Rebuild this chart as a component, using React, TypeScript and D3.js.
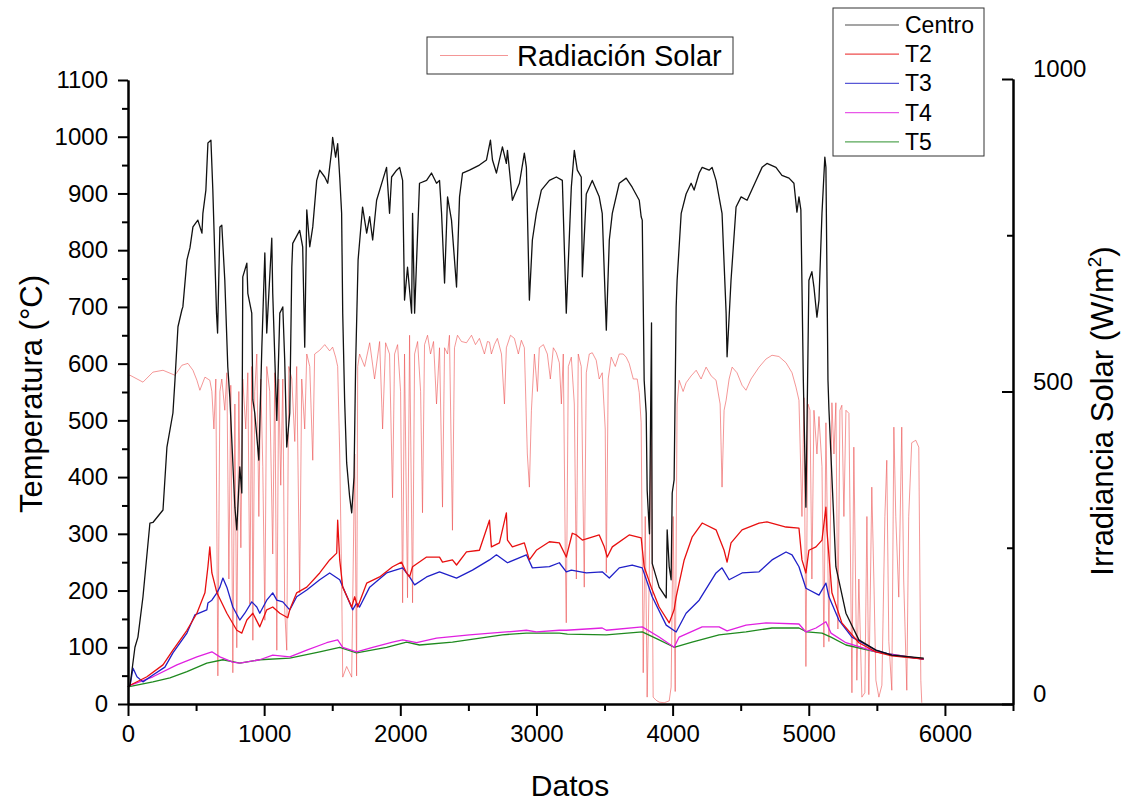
import React, { useEffect, useRef } from 'react';
import * as d3 from 'd3';

type Pt = [number, number];

// Datos (x) vs temperatura (°C)
const centro: Pt[] = [
  [0, 30], [15, 33], [51, 100], [73, 118], [110, 189], [161, 319], [183, 320], [257, 342], [286, 453], [330, 513],
  [345, 571], [367, 665], [396, 695], [403, 700], [433, 783], [455, 804], [477, 841], [513, 853], [543, 830], [550, 865],
  [572, 906], [587, 989], [609, 994], [623, 906], [650, 689], [658, 654], [675, 841], [689, 844], [711, 747], [733, 594],
  [748, 540], [785, 347], [799, 307], [821, 418], [836, 372], [843, 753], [873, 777], [880, 724], [909, 689], [917, 536],
  [931, 513], [961, 430], [983, 629], [1005, 795], [1019, 654], [1056, 821], [1063, 724], [1093, 500], [1115, 689], [1137, 700],
  [1151, 606], [1166, 453], [1188, 513], [1203, 770], [1210, 812], [1261, 835], [1283, 806], [1298, 629], [1313, 871], [1335, 806],
  [1357, 841], [1386, 923], [1408, 941], [1445, 929], [1467, 918], [1496, 976], [1503, 999], [1525, 964], [1540, 988], [1555, 929],
  [1569, 865], [1577, 689], [1591, 536], [1606, 425], [1628, 365], [1643, 337], [1660, 400], [1672, 600], [1690, 783], [1723, 876],
  [1753, 830], [1775, 859], [1797, 818], [1826, 888], [1870, 923], [1899, 946], [1921, 865], [1936, 929], [1973, 941], [1995, 946],
  [2017, 923], [2031, 712], [2053, 770], [2083, 689], [2090, 865], [2105, 689], [2141, 918], [2193, 923], [2229, 936], [2266, 918],
  [2288, 923], [2303, 865], [2325, 742], [2347, 894], [2376, 853], [2413, 735], [2435, 894], [2457, 936], [2508, 941], [2581, 950],
  [2633, 959], [2662, 994], [2677, 959], [2706, 936], [2750, 982], [2779, 953], [2787, 976], [2816, 906], [2823, 888], [2875, 918],
  [2911, 971], [2926, 946], [2948, 712], [2970, 818], [2999, 865], [3036, 906], [3095, 923], [3146, 929], [3190, 923], [3219, 689],
  [3256, 911], [3278, 976], [3300, 941], [3329, 929], [3337, 753], [3366, 899], [3410, 923], [3461, 894], [3483, 865], [3513, 659],
  [3535, 818], [3557, 865], [3608, 918], [3659, 927], [3703, 911], [3755, 888], [3769, 859], [3777, 853], [3791, 571], [3806, 513],
  [3813, 377], [3830, 300], [3845, 672], [3850, 248], [3901, 206], [3953, 187], [3960, 307], [3975, 242], [3989, 219], [3997, 372],
  [4011, 395], [4026, 700], [4033, 747], [4063, 865], [4099, 899], [4136, 918], [4158, 906], [4195, 936], [4217, 946], [4268, 941],
  [4290, 946], [4319, 923], [4363, 865], [4393, 689], [4400, 612], [4429, 747], [4466, 876], [4503, 894], [4547, 888], [4613, 923],
  [4657, 946], [4693, 953], [4759, 946], [4803, 932], [4855, 927], [4891, 918], [4913, 867], [4928, 894], [4942, 871], [4960, 571],
  [4979, 347], [5001, 747], [5023, 762], [5038, 735], [5060, 682], [5075, 712], [5097, 865], [5118, 964], [5126, 946], [5141, 571],
  [5148, 520], [5199, 242], [5273, 160], [5368, 113], [5493, 95], [5610, 86], [5844, 81],
];

const t2: Pt[] = [
  [0, 30], [15, 33], [139, 48], [257, 69], [330, 95], [433, 130], [506, 160], [565, 196], [587, 242], [601, 277],
  [616, 231], [653, 196], [726, 160], [799, 130], [836, 125], [873, 148], [917, 160], [968, 136], [1019, 166], [1063, 171],
  [1115, 160], [1173, 152], [1188, 166], [1239, 196], [1313, 206], [1408, 231], [1481, 254], [1533, 266], [1540, 324], [1555, 254],
  [1577, 206], [1643, 171], [1665, 189], [1687, 171], [1753, 213], [1848, 224], [1943, 242], [2009, 250], [2046, 231], [2068, 224],
  [2090, 242], [2193, 259], [2288, 259], [2310, 250], [2383, 254], [2413, 245], [2486, 268], [2581, 271], [2655, 324], [2669, 277],
  [2728, 284], [2779, 337], [2787, 289], [2823, 277], [2911, 284], [2948, 254], [2999, 271], [3095, 286], [3168, 284], [3219, 259],
  [3263, 301], [3293, 298], [3337, 289], [3461, 298], [3498, 277], [3520, 259], [3557, 277], [3681, 298], [3769, 293], [3791, 242],
  [3843, 206], [3901, 171], [3975, 143], [4011, 166], [4026, 189], [4085, 254], [4143, 294], [4217, 319], [4319, 307], [4378, 271],
  [4400, 250], [4429, 284], [4510, 307], [4635, 319], [4693, 321], [4833, 312], [4928, 310], [4950, 254], [4979, 231], [5001, 271],
  [5053, 277], [5097, 289], [5126, 347], [5133, 307], [5170, 196], [5243, 143], [5368, 108], [5493, 92], [5610, 85], [5844, 79],
];

const t3: Pt[] = [
  [0, 30], [15, 33], [37, 63], [66, 48], [110, 39], [183, 51], [271, 65], [330, 90], [433, 125], [491, 157],
  [579, 166], [587, 178], [616, 183], [653, 196], [675, 206], [697, 222], [726, 206], [770, 171], [821, 148], [858, 160],
  [909, 180], [946, 171], [968, 160], [1019, 183], [1063, 196], [1093, 183], [1137, 180], [1188, 166], [1239, 189], [1313, 201],
  [1408, 219], [1481, 231], [1555, 219], [1650, 166], [1679, 178], [1701, 171], [1775, 206], [1899, 231], [2017, 240], [2068, 224],
  [2105, 210], [2193, 224], [2288, 233], [2413, 222], [2530, 236], [2655, 254], [2706, 263], [2787, 249], [2926, 263], [2970, 240],
  [3095, 242], [3168, 249], [3219, 233], [3256, 236], [3366, 231], [3483, 233], [3535, 222], [3608, 240], [3703, 245], [3777, 240],
  [3850, 189], [3953, 139], [4026, 127], [4099, 160], [4195, 183], [4319, 231], [4363, 240], [4415, 219], [4510, 231], [4635, 233],
  [4730, 254], [4833, 268], [4877, 263], [4928, 242], [4979, 204], [5075, 192], [5126, 213], [5148, 189], [5221, 148], [5317, 118],
  [5493, 95], [5610, 86], [5844, 79],
];

const t4: Pt[] = [
  [0, 30], [15, 33], [183, 48], [359, 69], [506, 83], [616, 92], [675, 83], [770, 74], [821, 72], [968, 78],
  [1063, 86], [1188, 83], [1313, 95], [1459, 108], [1540, 113], [1577, 100], [1679, 92], [1797, 100], [1943, 109], [2017, 113],
  [2120, 108], [2266, 116], [2508, 122], [2779, 127], [2926, 130], [2999, 127], [3168, 130], [3219, 130], [3483, 134], [3513, 130],
  [3777, 136], [3901, 118], [4011, 100], [4048, 118], [4217, 136], [4341, 136], [4400, 129], [4539, 139], [4686, 143], [4928, 141],
  [4979, 127], [5053, 134], [5126, 145], [5163, 125], [5273, 108], [5493, 92], [5844, 79],
];

const t5: Pt[] = [
  [0, 30], [183, 39], [308, 46], [433, 57], [579, 72], [697, 78], [821, 72], [968, 78], [1188, 81], [1408, 92],
  [1555, 100], [1679, 90], [1899, 100], [2046, 109], [2141, 104], [2383, 109], [2750, 122], [2926, 125], [3168, 125], [3227, 123],
  [3513, 122], [3777, 127], [3901, 113], [4011, 100], [4143, 109], [4341, 122], [4539, 127], [4730, 134], [4928, 134], [4986, 127],
  [5097, 125], [5163, 118], [5273, 104], [5493, 92], [5844, 79],
];

// Datos vs irradiancia solar (W/m2), right axis
const radiacion: Pt[] = [
  [0, 526], [15, 526], [110, 515], [183, 531], [257, 534], [345, 526], [396, 542], [440, 545], [477, 534], [506, 518],
  [528, 502], [565, 523], [601, 518], [616, 500], [631, 440], [645, 520], [660, 45], [675, 500], [689, 520], [711, 470],
  [726, 530], [741, 200], [755, 510], [770, 50], [785, 480], [799, 90], [814, 500], [829, 250], [843, 520], [865, 440],
  [880, 530], [895, 160], [909, 540], [917, 102], [931, 500], [946, 560], [961, 300], [975, 520], [990, 380], [1005, 134],
  [1019, 540], [1041, 500], [1063, 240], [1078, 530], [1093, 86], [1107, 520], [1122, 350], [1137, 520], [1151, 150], [1166, 86],
  [1181, 540], [1203, 520], [1225, 420], [1239, 540], [1261, 178], [1276, 520], [1298, 440], [1313, 560], [1335, 540], [1357, 390],
  [1371, 560], [1408, 566], [1445, 575], [1481, 565], [1503, 571], [1525, 555], [1540, 540], [1555, 400], [1569, 200], [1577, 43],
  [1606, 60], [1643, 43], [1665, 400], [1679, 45], [1687, 540], [1701, 560], [1738, 540], [1775, 578], [1811, 520], [1848, 580],
  [1870, 440], [1892, 578], [1921, 560], [1943, 330], [1958, 560], [1980, 575], [2002, 500], [2017, 162], [2031, 560], [2053, 170],
  [2068, 590], [2090, 162], [2105, 560], [2127, 580], [2149, 500], [2163, 306], [2178, 575], [2200, 590], [2222, 560], [2244, 580],
  [2266, 480], [2288, 570], [2310, 315], [2325, 570], [2347, 560], [2361, 590], [2383, 278], [2398, 570], [2420, 590], [2449, 580],
  [2486, 578], [2523, 590], [2552, 575], [2581, 585], [2618, 560], [2640, 580], [2655, 579], [2669, 560], [2691, 575], [2713, 585],
  [2743, 560], [2765, 480], [2779, 570], [2809, 590], [2838, 585], [2867, 560], [2889, 582], [2911, 570], [2933, 400], [2948, 347],
  [2963, 470], [2985, 560], [3007, 500], [3021, 570], [3051, 575], [3080, 560], [3102, 520], [3124, 570], [3146, 562], [3168, 546],
  [3183, 480], [3197, 560], [3212, 235], [3219, 130], [3234, 540], [3256, 555], [3278, 480], [3293, 200], [3307, 560], [3329, 540],
  [3351, 187], [3366, 530], [3388, 560], [3410, 562], [3439, 550], [3461, 520], [3483, 530], [3505, 440], [3513, 210], [3527, 520],
  [3549, 555], [3579, 540], [3608, 560], [3637, 560], [3659, 555], [3681, 545], [3711, 520], [3740, 520], [3755, 498], [3769, 450],
  [3784, 50], [3799, 300], [3813, 11], [3828, 200], [3843, 460], [3857, 11], [3879, 6], [3901, 3], [3938, 2], [3975, 5],
  [3989, 27], [4004, 300], [4019, 20], [4033, 480], [4048, 518], [4077, 500], [4099, 514], [4136, 525], [4173, 534], [4209, 520],
  [4246, 539], [4283, 525], [4319, 518], [4349, 480], [4363, 347], [4378, 470], [4393, 486], [4415, 520], [4437, 539], [4473, 530],
  [4510, 510], [4539, 502], [4576, 520], [4635, 539], [4686, 552], [4730, 558], [4781, 556], [4833, 546], [4877, 530], [4906, 507],
  [4928, 486], [4950, 300], [4965, 490], [4979, 60], [4994, 480], [5009, 470], [5023, 200], [5038, 470], [5060, 400], [5075, 460],
  [5097, 380], [5111, 91], [5126, 450], [5148, 100], [5170, 482], [5185, 400], [5199, 482], [5214, 120], [5229, 470], [5243, 478],
  [5258, 300], [5273, 470], [5295, 465], [5317, 18], [5331, 411], [5353, 38], [5368, 200], [5390, 11], [5412, 18], [5427, 300],
  [5441, 15], [5463, 347], [5478, 200], [5493, 38], [5515, 11], [5537, 30], [5559, 300], [5573, 390], [5588, 100], [5610, 22],
  [5625, 443], [5639, 300], [5661, 171], [5683, 443], [5697, 200], [5720, 22], [5734, 300], [5756, 418], [5786, 422], [5808, 411],
  [5823, 38], [5830, 2],
];

const xTicks = [0, 1000, 2000, 3000, 4000, 5000, 6000];
const yTicks = d3.range(0, 1101, 100);
const rTicks = [0, 500, 1000];

const series = [
  { name: 'Centro', data: centro, color: '#111111' },
  { name: 'T2', data: t2, color: '#e81010' },
  { name: 'T3', data: t3, color: '#2020c8' },
  { name: 'T4', data: t4, color: '#e020e0' },
  { name: 'T5', data: t5, color: '#1f8a1f' },
];

const FONT = '"Liberation Sans", Arial, sans-serif';

const App = () => {
  const svgRef = useRef<SVGSVGElement>(null);

  useEffect(() => {
    const svg = d3.select(svgRef.current);
    svg.selectAll('*').remove();

    const x = d3.scaleLinear().domain([0, 6500]).range([128, 1013]);
    const yT = d3.scaleLinear().domain([0, 1100]).range([704, 80]);
    const yR = d3.scaleLinear().domain([0, 1000]).range([704, 79]);

    const line = (ys: d3.ScaleLinear<number, number>) =>
      d3.line<Pt>().x(d => x(d[0])).y(d => ys(d[1]));

    // radiation first, temperatures over it
    svg.append('path').datum(radiacion)
      .attr('d', line(yR)).attr('fill', 'none')
      .attr('stroke', '#ec5050').attr('stroke-opacity', 0.75).attr('stroke-width', 0.8);

    series.slice().reverse().forEach(s => {
      svg.append('path').datum(s.data)
        .attr('d', line(yT)).attr('fill', 'none')
        .attr('stroke', s.color).attr('stroke-width', 1.3).attr('stroke-linejoin', 'round');
    });

    const styleAxis = (g: d3.Selection<SVGGElement, unknown, null, undefined>) => {
      g.selectAll('path.domain').attr('stroke', '#000').attr('stroke-width', 2);
      g.selectAll('.tick line').attr('stroke', '#000').attr('stroke-width', 2);
      g.selectAll('text').attr('font-family', FONT).attr('font-size', 24).attr('fill', '#000');
    };

    // left axis
    svg.append('g').attr('transform', 'translate(128,0)')
      .call(d3.axisLeft(yT).tickValues(d3.range(50, 1100, 100)).tickSize(6).tickSizeOuter(0).tickFormat(() => ''))
      .call(styleAxis);
    svg.append('g').attr('transform', 'translate(128,0)')
      .call(d3.axisLeft(yT).tickValues(yTicks).tickSize(10).tickSizeOuter(0).tickPadding(10).tickFormat(d3.format('d')))
      .call(styleAxis);

    // bottom axis
    svg.append('g').attr('transform', 'translate(0,704)')
      .call(d3.axisBottom(x).tickValues(d3.range(500, 6600, 1000)).tickSize(7).tickSizeOuter(0).tickFormat(() => ''))
      .call(styleAxis);
    svg.append('g').attr('transform', 'translate(0,704)')
      .call(d3.axisBottom(x).tickValues(xTicks).tickSize(12).tickSizeOuter(0).tickPadding(9).tickFormat(d3.format('d')))
      .call(styleAxis);

    // right axis, ticks pointing in
    svg.append('g').attr('transform', 'translate(1013,0)')
      .call(d3.axisRight(yR).tickValues([250, 750]).tickSize(-6).tickSizeOuter(0).tickFormat(() => ''))
      .call(styleAxis);
    const rg = svg.append('g').attr('transform', 'translate(1013,0)')
      .call(d3.axisRight(yR).tickValues(rTicks).tickSize(-11).tickSizeOuter(0).tickPadding(20).tickFormat(d3.format('d')))
      .call(styleAxis);
    rg.selectAll('text').attr('y', -10);

    // titles
    svg.append('text').attr('x', 570).attr('y', 796).attr('text-anchor', 'middle')
      .attr('font-family', FONT).attr('font-size', 30).text('Datos');
    svg.append('text').attr('transform', 'translate(42,394) rotate(-90)').attr('text-anchor', 'middle')
      .attr('font-family', FONT).attr('font-size', 31).text('Temperatura (°C)');
    const rt = svg.append('text').attr('transform', 'translate(1113,411) rotate(-90)').attr('text-anchor', 'middle')
      .attr('font-family', FONT).attr('font-size', 31);
    rt.append('tspan').text('Irradiancia Solar (W/m');
    rt.append('tspan').attr('font-size', 19).attr('dy', -12).text('2');
    rt.append('tspan').attr('dy', 12).text(')');

    // legend: radiation
    const l1 = svg.append('g');
    l1.append('rect').attr('x', 427).attr('y', 37).attr('width', 306).attr('height', 37)
      .attr('fill', 'white').attr('stroke', '#333').attr('stroke-width', 1);
    l1.append('line').attr('x1', 440).attr('x2', 508).attr('y1', 55.5).attr('y2', 55.5)
      .attr('stroke', '#ec5050').attr('stroke-opacity', 0.6).attr('stroke-width', 1);
    l1.append('text').attr('x', 517).attr('y', 66).attr('font-family', FONT).attr('font-size', 29)
      .text('Radiación Solar');

    // legend: temperatures
    const l2 = svg.append('g');
    l2.append('rect').attr('x', 833).attr('y', 8).attr('width', 151).attr('height', 148)
      .attr('fill', 'white').attr('stroke', '#333').attr('stroke-width', 1);
    series.forEach((s, i) => {
      const cy = 25 + i * 29.2;
      l2.append('line').attr('x1', 845).attr('x2', 899).attr('y1', cy).attr('y2', cy)
        .attr('stroke', s.color).attr('stroke-opacity', 0.75).attr('stroke-width', 1.2);
      l2.append('text').attr('x', 905).attr('y', cy + 8).attr('font-family', FONT).attr('font-size', 23)
        .text(s.name);
    });
  }, []);

  return (
    <div style={{ position: 'absolute', left: 0, top: 0 }}>
      <svg ref={svgRef} width={1124} height={801} style={{ display: 'block', background: 'white' }} />
    </div>
  );
};

export default App;
